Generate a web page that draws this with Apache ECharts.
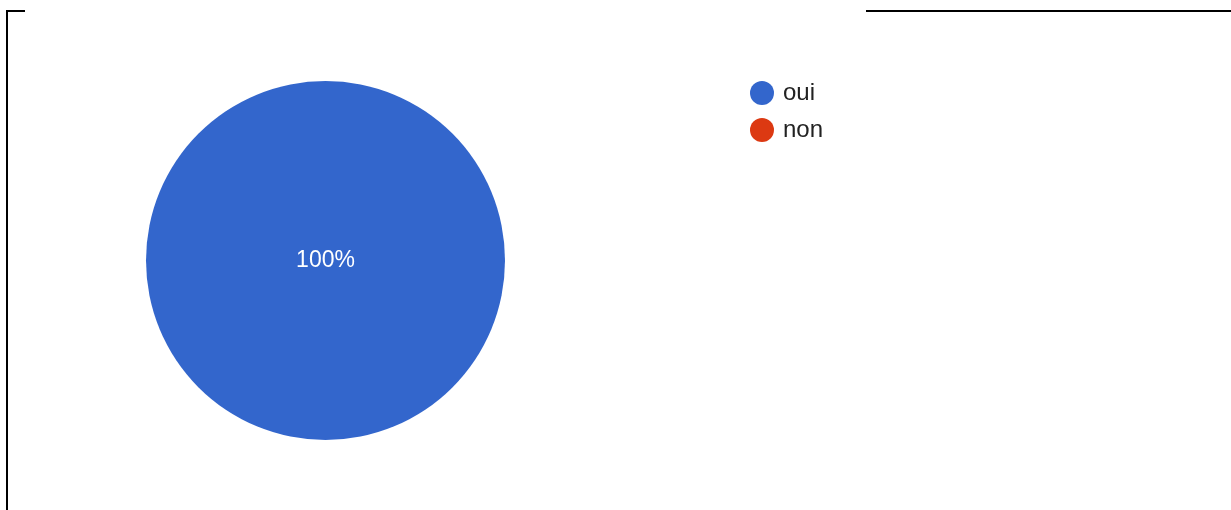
<!DOCTYPE html>
<html>
<head>
<meta charset="utf-8">
<script src="https://cdn.jsdelivr.net/npm/echarts@6/dist/echarts.min.js"></script>
<style>
  html, body { margin: 0; padding: 0; background: #fff; }
  #chart { width: 1231px; height: 510px; }
</style>
</head>
<body>
<div id="chart"></div>
<script>
// Answers and their counts
const categories = ['oui', 'non'];
const counts = [100, 0];
const colors = ['#3366cc', '#dc3912'];

const total = counts.reduce((a, b) => a + b, 0);

const chart = echarts.init(document.getElementById('chart'), null, { renderer: 'canvas' });

chart.setOption({
  backgroundColor: '#ffffff',
  animation: false,
  color: colors,
  legend: {
    orient: 'vertical',
    left: 745,
    top: 76,
    icon: 'circle',
    itemWidth: 24,
    itemHeight: 24,
    itemGap: 13,
    textStyle: {
      fontFamily: 'Liberation Sans, Arial, sans-serif',
      fontSize: 24,
      color: '#222222',
      padding: [2, 0, 0, 4]
    },
    data: categories
  },
  graphic: [
    { type: 'line', shape: { x1: 7, y1: 11, x2: 7, y2: 510 }, style: { stroke: '#000', lineWidth: 2 } },
    { type: 'line', shape: { x1: 6, y1: 11, x2: 25, y2: 11 }, style: { stroke: '#000', lineWidth: 2 } },
    { type: 'line', shape: { x1: 866, y1: 11, x2: 1231, y2: 11 }, style: { stroke: '#000', lineWidth: 2 } }
  ],
  series: [{
    type: 'pie',
    center: [325.5, 260.5],
    radius: [0, 179.5],
    startAngle: 90,
    clockwise: true,
    avoidLabelOverlap: false,
    itemStyle: { borderWidth: 0 },
    label: {
      show: true,
      position: 'center',
      color: '#ffffff',
      fontFamily: 'Liberation Sans, Arial, sans-serif',
      fontSize: 23,
      padding: [2, 0, 0, 0],
      formatter: p => Math.round(p.value / total * 100) + '%'
    },
    labelLine: { show: false },
    emphasis: { disabled: true },
    data: categories.map((name, i) => ({
      name: name,
      value: counts[i],
      label: { show: counts[i] > 0 }
    }))
  }]
});
</script>
</body>
</html>
